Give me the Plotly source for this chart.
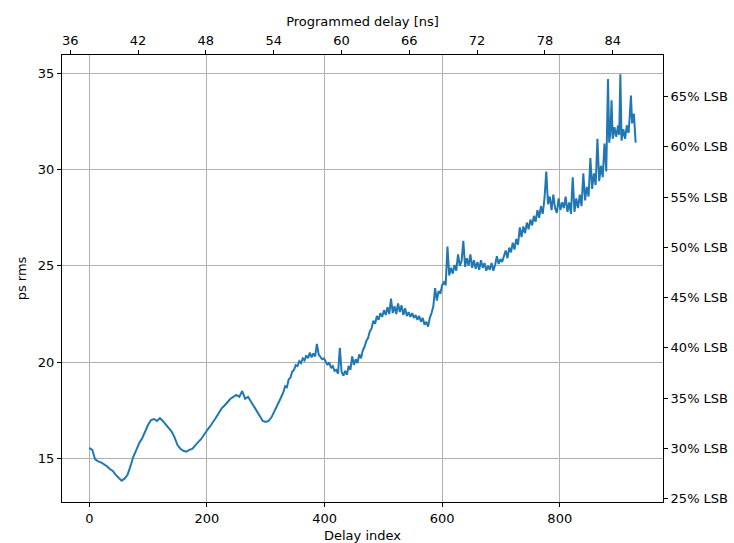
import plotly.graph_objects as go

# ---- data ----
# smooth start: delay index 0..325, step 5
idx_a = list(range(0, 330, 5))
rms_a = [15.55, 15.45, 14.95, 14.85, 14.8, 14.7, 14.6, 14.45, 14.35, 14.15,
         14.0, 13.85, 13.95, 14.15, 14.6, 15.1, 15.45, 15.8, 16.05, 16.4,
         16.75, 17.0, 17.05, 16.95, 17.1, 16.95, 16.75, 16.55, 16.4, 16.1,
         15.7, 15.5, 15.4, 15.35, 15.45, 15.5, 15.7, 15.85, 16.0, 16.25,
         16.45, 16.65, 16.85, 17.1, 17.35, 17.6, 17.75, 17.95, 18.1, 18.2,
         18.3, 18.2, 18.5, 18.1, 18.2, 17.95, 17.7, 17.5, 17.2, 16.95,
         16.9, 16.95, 17.15, 17.45, 17.75, 18.1]
# noisier part: delay index 330..876, step 3
idx_b = list(range(330, 877, 3))
rms_330_399 = [18.45, 18.75, 18.7, 19.1, 19.2, 19.5, 19.6, 19.85, 19.8, 20.05,
               19.95, 20.2, 20.1, 20.35, 20.2, 20.5, 20.25, 20.45, 20.3, 20.95,
               20.4, 20.3, 20.15, 20.2]
rms_402_498 = [20.0, 19.85, 20.0, 19.7, 19.8, 19.55, 19.6, 19.4, 20.75, 19.5,
               19.3, 19.55, 19.35, 19.8, 19.6, 20.3, 19.85, 20.15, 19.95, 20.4,
               20.2, 20.6, 20.8, 21.1, 21.25, 21.6, 21.75, 22.15, 22.0, 22.4,
               22.2, 22.55, 22.35]
rms_501_600 = [22.7, 22.45, 22.85, 22.5, 23.3, 22.55, 22.9, 22.5, 23.05, 22.6,
               22.95, 22.45, 22.8, 22.4, 22.6, 22.35, 22.55, 22.3, 22.45, 22.2,
               22.4, 22.1, 22.3, 21.95, 22.1, 21.85, 22.3, 22.55, 22.9, 23.85,
               23.2, 23.7, 23.55, 24.0]
rms_603_702 = [24.15, 24.0, 26.0, 24.5, 24.9, 24.6, 25.05, 24.75, 25.6, 25.0,
               25.25, 26.3, 24.95, 25.4, 25.0, 25.6, 24.9, 25.3, 24.85, 25.2,
               24.8, 25.3, 24.9, 25.15, 24.75, 25.0, 24.8, 25.15, 24.75, 25.05,
               25.5, 25.1, 25.35, 25.2]
rms_705_804 = [25.5, 25.8, 25.4, 25.95, 25.7, 26.2, 25.85, 26.4, 26.1, 27.0,
               26.5, 27.05, 26.7, 27.25, 26.9, 27.4, 27.1, 27.6, 27.3, 27.9,
               27.5, 28.1, 27.7, 28.5, 29.9, 28.2, 28.6, 27.9, 28.7, 28.0,
               27.75, 28.5, 27.9, 28.3]
rms_807_876 = [28.0, 28.6, 27.8, 28.3, 27.7, 29.6, 27.8, 28.5, 28.0, 28.7,
               28.1, 29.8, 28.4, 29.1, 28.6, 30.6, 29.0, 29.8, 29.2, 31.6,
               29.4, 30.2, 29.6, 31.35]
# spiky end
idx_c = [879, 882, 884, 886, 888, 890, 893, 896, 899, 901, 903, 905, 908, 911,
         914, 917, 919, 921, 923, 926, 929]
rms_c = [29.9, 34.7, 31.4, 31.9, 33.6, 31.6, 32.2, 31.7, 32.3, 31.8, 34.95, 31.5,
         32.1, 31.6, 32.3, 31.9, 32.8, 33.85, 32.4, 32.9, 31.4]

x_ticks = [0, 200, 400, 600, 800]
y_ticks = [15, 20, 25, 30, 35]
ns_ticks = [36, 42, 48, 54, 60, 66, 72, 78, 84]
pct_ticks = [25, 30, 35, 40, 45, 50, 55, 60, 65]
pct_labels = [f"{p}% LSB" for p in pct_ticks]

NS_OFFSET = 37.68   # programmed delay at index 0 [ns]
NS_STEP = 0.052     # ns per delay index
LSB_PS = 52.0       # one LSB in ps

idx = idx_a + idx_b + idx_c
rms = (rms_a + rms_330_399 + rms_402_498 + rms_501_600 + rms_603_702 +
       rms_705_804 + rms_807_876 + rms_c)
ns = [NS_OFFSET + NS_STEP * i for i in idx]
pct = [v / LSB_PS * 100 for v in rms]

fig = go.Figure()
fig.add_trace(go.Scatter(x=idx, y=rms, mode="lines",
                         line=dict(color="#1f77b4", width=2),
                         xaxis="x", yaxis="y", showlegend=False))
fig.add_trace(go.Scatter(x=ns, y=pct, mode="lines",
                         line=dict(color="rgba(0,0,0,0)", width=0),
                         xaxis="x2", yaxis="y2", showlegend=False, hoverinfo="skip"))

tfont = dict(family="DejaVu Sans", size=13, color="black")
axis_common = dict(ticks="outside", ticklen=4, tickwidth=1, tickcolor="black",
                   showline=True, linecolor="black", linewidth=1, zeroline=False,
                   automargin=False, tickfont=tfont)
grid = dict(showgrid=True, gridcolor="#b0b0b0", gridwidth=0.8)

fig.update_layout(
    width=734, height=543,
    margin=dict(l=62, r=71, t=55, b=41),
    paper_bgcolor="white", plot_bgcolor="white",
    font=tfont,
    xaxis=dict(range=[-46.4, 975.5], tickvals=x_ticks, **axis_common, **grid,
               title=dict(text="Delay index", standoff=7, font=tfont)),
    yaxis=dict(range=[12.74, 35.95], tickvals=y_ticks, **axis_common, **grid,
               title=dict(text="ps rms", standoff=8, font=tfont)),
    xaxis2=dict(range=[35.27, 88.45], tickvals=ns_ticks, overlaying="x", side="top",
                anchor="y2", showgrid=False, **axis_common,
                title=dict(text="Programmed delay [ns]", standoff=3, font=tfont)),
    yaxis2=dict(range=[24.65, 69.15], tickvals=pct_ticks, ticktext=pct_labels,
                tickmode="array", overlaying="y", side="right", anchor="x2",
                showgrid=False, **axis_common),
)

fig.write_html("out.html")
